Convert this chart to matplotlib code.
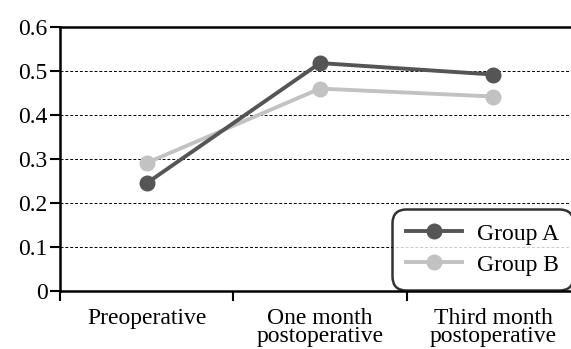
import matplotlib
matplotlib.use("Agg")
import matplotlib.pyplot as plt

categories = ["Preoperative", "One month\npostoperative", "Third month\npostoperative"]
group_a = [0.245, 0.518, 0.492]
group_b = [0.291, 0.460, 0.442]
series_names = ["Group A", "Group B"]
yticks = [0, 0.1, 0.2, 0.3, 0.4, 0.5, 0.6]
ytick_labels = ["0", "0.1", "0.2", "0.3", "0.4", "0.5", "0.6"]

plt.rcParams["font.family"] = ["Liberation Serif", "DejaVu Serif"]

fig = plt.figure(figsize=(5.71, 3.49), dpi=100)
ax = fig.add_axes([60/571, 58/349, 520/571, 264/349])

x = list(range(len(categories)))
ax.plot(x, group_a, color="#555555", lw=2.8, marker="o", ms=10.5, label=series_names[0], zorder=3)
ax.plot(x, group_b, color="#c2c2c2", lw=2.8, marker="o", ms=10.5, label=series_names[1], zorder=2)

ax.set_xlim(-0.5, 2.5)
ax.set_ylim(0, 0.6)
ax.set_yticks(yticks)
ax.set_yticklabels(ytick_labels, fontsize=17)
ax.set_xticks(x)
ax.set_xticklabels(categories, fontsize=17, linespacing=0.85)
ax.tick_params(axis="x", length=0, pad=12)
ax.set_xticks([-0.5, 0.5, 1.5], minor=True)
ax.tick_params(axis="x", which="minor", length=7, width=1.5, direction="out")
ax.tick_params(axis="y", length=7, width=1.5, pad=2)

for v in yticks[1:-1]:
    ax.axhline(v, color="black", lw=0.7, ls=(0, (3, 2)), zorder=1)

for s in ["left", "bottom", "top"]:
    ax.spines[s].set_linewidth(1.8)
ax.spines["right"].set_visible(False)

leg = fig.legend(loc="lower right", bbox_to_anchor=(568/571, 64/349), fontsize=17,
                 frameon=True, fancybox=True, edgecolor="black", handlelength=2.4,
                 handletextpad=0.6, borderpad=0.4, labelspacing=0.4, borderaxespad=0)
leg.get_frame().set_linewidth(1.8)
leg.get_frame().set_boxstyle("round,pad=0.2,rounding_size=0.6")
leg.set_zorder(5)

fig.savefig("out.png", dpi=100)
